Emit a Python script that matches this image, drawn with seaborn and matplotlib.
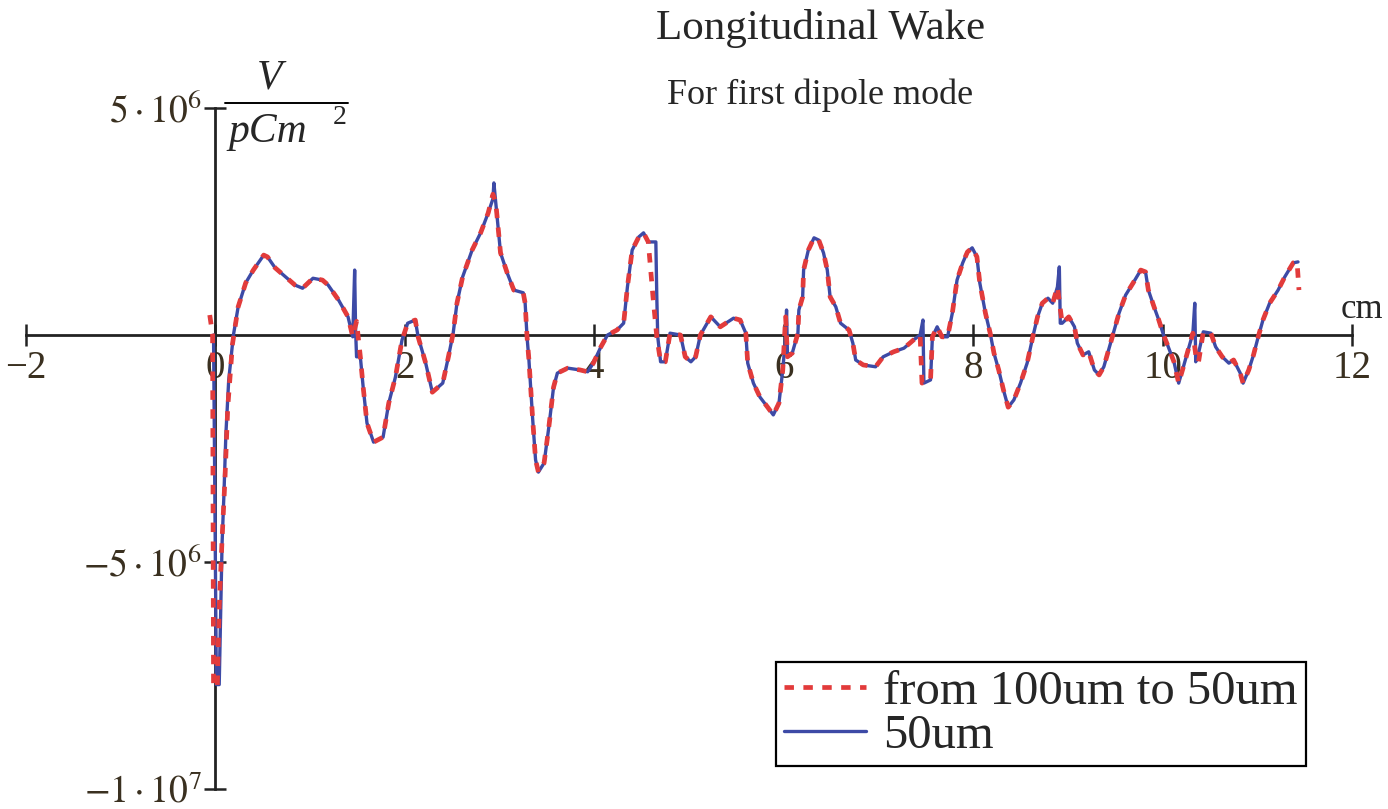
import numpy as np
import pandas as pd
import matplotlib
matplotlib.use("Agg")
import matplotlib.pyplot as plt
import seaborn as sns
from matplotlib.lines import Line2D

# ---------------- data (x in cm, wake in units of 1e6 V/(pC m^2)) ----------------
x_fine = [-0.02, 0.01, 0.04, 0.07, 0.09, 0.11, 0.14, 0.19, 0.24, 0.32, 0.40, 0.51, 0.55, 0.63,
          0.74, 0.84, 0.92, 1.03, 1.13, 1.19, 1.30, 1.40, 1.45, 1.47, 1.48, 1.49, 1.53, 1.56,
          1.60, 1.67, 1.77, 1.83, 1.90, 1.97, 2.03, 2.11, 2.14, 2.22, 2.29, 2.40, 2.46, 2.51,
          2.55, 2.61, 2.71, 2.80, 2.88, 2.93, 2.94, 2.96, 3.01, 3.08, 3.15, 3.25, 3.27, 3.29,
          3.31, 3.35, 3.38, 3.41, 3.47, 3.52, 3.57, 3.61, 3.72, 3.85, 3.93, 3.99, 4.07, 4.14,
          4.24, 4.31, 4.35, 4.40, 4.47, 4.52, 4.57, 4.65, 4.66, 4.67, 4.70, 4.75, 4.80, 4.91,
          4.96, 5.02, 5.07, 5.12, 5.23, 5.28, 5.33, 5.47, 5.54, 5.60, 5.62, 5.68, 5.75, 5.83,
          5.89, 5.95, 5.99, 6.02, 6.03, 6.04, 6.09, 6.15, 6.16, 6.20, 6.21, 6.26, 6.32, 6.37,
          6.42, 6.46, 6.49, 6.55, 6.60, 6.69, 6.73, 6.76, 6.84, 6.97, 7.05, 7.16, 7.27, 7.37,
          7.44, 7.47, 7.48, 7.55, 7.57, 7.62, 7.67, 7.73, 7.78, 7.83, 7.89, 7.94, 7.99, 8.04,
          8.07, 8.13, 8.18, 8.22, 8.27, 8.32, 8.37, 8.43, 8.50, 8.57, 8.63, 8.68, 8.73, 8.79,
          8.84, 8.89, 8.91, 8.92, 8.94, 9.01, 9.07, 9.10, 9.16, 9.22, 9.28, 9.33, 9.38, 9.43,
          9.48, 9.54, 9.61, 9.69, 9.77, 9.82, 9.85, 9.91, 9.96, 10.01, 10.06, 10.12, 10.17,
          10.22, 10.27, 10.32, 10.34, 10.35, 10.38, 10.43, 10.51, 10.56, 10.63, 10.70, 10.75,
          10.82, 10.85, 10.91, 10.96, 11.01, 11.06, 11.13, 11.22, 11.29, 11.38, 11.43]

w_fine = [0.0, -7.7, -7.7, -4.6, -3.5, -2.2, -1.0, 0.0, 0.62, 1.15, 1.43, 1.76, 1.72, 1.48,
          1.28, 1.10, 1.03, 1.25, 1.21, 1.10, 0.77, 0.40, -0.04, 1.43, 0.10, -0.48, -0.48, -1.15,
          -1.94, -2.36, -2.25, -1.50, -0.93, -0.11, 0.26, 0.33, -0.04, -0.62, -1.26, -1.06, -0.48, 0.04,
          0.70, 1.28, 1.87, 2.25, 2.69, 3.00, 3.35, 2.91, 1.81, 1.37, 0.99, 0.93, 0.70, -0.04,
          -0.55, -1.87, -2.75, -3.02, -2.82, -2.03, -1.15, -0.84, -0.73, -0.77, -0.81, -0.62, -0.26, 0.0,
          0.11, 0.26, 1.06, 1.87, 2.16, 2.25, 2.05, 2.05, 0.84, -0.04, -0.59, -0.59, 0.04, 0.0,
          -0.48, -0.59, -0.48, 0.0, 0.40, 0.29, 0.18, 0.37, 0.33, 0.04, -0.62, -1.06, -1.37, -1.59,
          -1.76, -1.50, -0.77, -0.04, 0.55, -0.48, -0.40, 0.04, 0.55, 0.84, 1.43, 1.87, 2.14, 2.09,
          1.81, 1.43, 0.84, 0.62, 0.26, 0.11, -0.18, -0.55, -0.66, -0.70, -0.48, -0.37, -0.29, -0.11,
          0.0, 0.33, -1.06, -0.99, -0.04, 0.18, -0.04, -0.04, 0.48, 1.21, 1.59, 1.83, 1.92, 1.72,
          1.15, 0.48, 0.04, -0.40, -0.77, -1.21, -1.59, -1.43, -1.06, -0.62, -0.04, 0.40, 0.70, 0.81,
          0.70, 1.06, 1.50, 0.26, 0.26, 0.40, 0.18, -0.18, -0.44, -0.37, -0.77, -0.88, -0.70, -0.33,
          0.04, 0.48, 0.88, 1.15, 1.43, 1.39, 0.99, 0.62, 0.33, 0.0, -0.26, -0.59, -1.06,
          -0.70, -0.33, 0.04, 0.70, -0.59, -0.40, 0.07, 0.04, -0.26, -0.48, -0.62, -0.55,
          -0.84, -1.06, -0.77, -0.44, -0.04, 0.33, 0.70, 0.99, 1.28, 1.59, 1.61]

x_coarse = [-0.06, -0.03, -0.02, 0.02, 0.04, 0.07, 0.10, 0.13, 0.18, 0.24, 0.32, 0.40, 0.51, 0.55,
            0.63, 0.74, 0.84, 0.92, 1.03, 1.13, 1.19, 1.30, 1.40, 1.45, 1.49, 1.53, 1.56, 1.60,
            1.67, 1.77, 1.83, 1.90, 1.97, 2.03, 2.11, 2.14, 2.22, 2.29, 2.40, 2.46, 2.51, 2.55,
            2.61, 2.71, 2.80, 2.88, 2.93, 2.96, 3.01, 3.08, 3.15, 3.25, 3.27, 3.29, 3.31, 3.35,
            3.38, 3.41, 3.47, 3.52, 3.57, 3.61, 3.72, 3.85, 3.93, 3.99, 4.07, 4.14, 4.24, 4.31,
            4.35, 4.40, 4.47, 4.52, 4.57, 4.62, 4.66, 4.70, 4.75, 4.80, 4.91, 4.96, 5.02, 5.07,
            5.12, 5.23, 5.28, 5.33, 5.47, 5.54, 5.60, 5.62, 5.68, 5.75, 5.83, 5.89, 5.95, 5.99,
            6.02, 6.04, 6.09, 6.15, 6.16, 6.20, 6.21, 6.26, 6.32, 6.37, 6.42, 6.46, 6.49, 6.55,
            6.60, 6.69, 6.73, 6.76, 6.84, 6.97, 7.05, 7.16, 7.27, 7.37, 7.44, 7.46, 7.55, 7.57,
            7.62, 7.67, 7.73, 7.78, 7.83, 7.89, 7.94, 7.99, 8.04, 8.07, 8.13, 8.18, 8.22, 8.27,
            8.32, 8.37, 8.43, 8.50, 8.57, 8.63, 8.68, 8.73, 8.79, 8.84, 8.89, 8.94, 9.01, 9.07,
            9.10, 9.16, 9.22, 9.28, 9.33, 9.38, 9.43, 9.48, 9.54, 9.61, 9.69, 9.77, 9.82, 9.85,
            9.91, 9.96, 10.01, 10.06, 10.12, 10.17, 10.22, 10.27, 10.32, 10.36, 10.38, 10.43,
            10.51, 10.56, 10.63, 10.70, 10.75, 10.82, 10.85, 10.91, 10.96, 11.01, 11.06, 11.13,
            11.22, 11.29, 11.38, 11.42, 11.44]

w_coarse = [0.44, 0.0, -7.75, -7.75, -6.0, -4.5, -3.2, -1.6, -0.2, 0.62, 1.15, 1.43, 1.76, 1.72,
            1.48, 1.28, 1.10, 1.03, 1.25, 1.21, 1.10, 0.77, 0.40, -0.04, 0.30, -0.48, -1.15, -1.94,
            -2.36, -2.25, -1.50, -0.93, -0.11, 0.26, 0.33, -0.04, -0.62, -1.26, -1.06, -0.48, 0.04, 0.70,
            1.28, 1.87, 2.25, 2.69, 3.10, 2.91, 1.81, 1.37, 0.99, 0.93, 0.70, -0.04, -0.55, -1.87,
            -2.75, -3.02, -2.82, -2.03, -1.15, -0.84, -0.73, -0.77, -0.81, -0.62, -0.26, 0.0, 0.11, 0.26,
            1.06, 1.87, 2.16, 2.25, 2.05, 0.84, -0.04, -0.59, -0.59, 0.04, 0.0, -0.48, -0.59, -0.48,
            0.0, 0.40, 0.29, 0.18, 0.37, 0.33, 0.04, -0.62, -1.06, -1.37, -1.59, -1.76, -1.50, -0.77,
            0.40, -0.48, -0.40, 0.04, 0.55, 0.84, 1.43, 1.87, 2.14, 2.09, 1.81, 1.43, 0.84, 0.62,
            0.26, 0.11, -0.18, -0.55, -0.66, -0.70, -0.48, -0.37, -0.29, -0.11, 0.0, -1.06, -0.99, -0.04,
            0.18, -0.04, -0.04, 0.48, 1.21, 1.59, 1.83, 1.92, 1.72, 1.15, 0.48, 0.04, -0.40, -0.77,
            -1.21, -1.59, -1.43, -1.06, -0.62, -0.04, 0.40, 0.70, 0.81, 0.70, 1.06, 0.26, 0.40, 0.18,
            -0.18, -0.44, -0.37, -0.77, -0.88, -0.70, -0.33, 0.04, 0.48, 0.88, 1.15, 1.43, 1.39, 0.99,
            0.62, 0.33, 0.0, -0.26, -0.59, -1.06, -0.70, -0.33, 0.04, -0.59, -0.59, 0.07,
            0.04, -0.26, -0.48, -0.62, -0.55, -0.84, -1.06, -0.77, -0.44, -0.04, 0.33, 0.70,
            0.99, 1.28, 1.59, 1.61, 0.99]

series_labels = ["from 100um to 50um", "50um"]
x_ticks = [-2, 0, 2, 4, 6, 8, 10, 12]
x_tick_labels = ["\u22122", "0", "2", "4", "6", "8", "10", "12"]
y_ticks = [5e6, -5e6, -1e7]
y_tick_labels = [r"$5\cdot10^{6}$", r"$-5\cdot10^{6}$", r"$-1\cdot10^{7}$"]
UNIT = 1e6

# ---------------- styling ----------------
sns.set_style("white")
plt.rcParams["font.family"] = ["Liberation Serif", "DejaVu Serif"]
plt.rcParams["mathtext.fontset"] = "stix"

W, H = 1388, 809
fig = plt.figure(figsize=(W / 100, H / 100), dpi=100)
ax = fig.add_axes([26 / W, 20 / H, (1352 - 26) / W, (789 - 108) / H])

df_red = pd.DataFrame({"x": x_coarse, "w": np.array(w_coarse) * UNIT})
df_blue = pd.DataFrame({"x": x_fine, "w": np.array(w_fine) * UNIT})

RED = "#e23b3b"
BLUE = "#3d4aa6"
RED_LS = (0, (2.0, 2.0))

sns.lineplot(data=df_blue, x="x", y="w", ax=ax, sort=False, estimator=None,
             color=BLUE, linewidth=2.4, zorder=3)
sns.lineplot(data=df_red, x="x", y="w", ax=ax, sort=False, estimator=None,
             color=RED, linewidth=3.4, linestyle=RED_LS, zorder=4)

ax.set_xlim(-2, 12)
ax.set_ylim(-1e7, 5e6)

for s in ["top", "right"]:
    ax.spines[s].set_visible(False)
for s in ["left", "bottom"]:
    ax.spines[s].set_position(("data", 0))
    ax.spines[s].set_color("#222222")
    ax.spines[s].set_linewidth(2.0)
    ax.spines[s].set_zorder(2)

ax.set_xticks(x_ticks)
ax.set_xticklabels(x_tick_labels, fontsize=28)
ax.set_yticks(y_ticks)
ax.set_yticklabels(y_tick_labels, fontsize=27)
ax.tick_params(axis="both", direction="inout", length=16, width=1.8, color="#222222",
               labelcolor="#3a3020")
ax.tick_params(axis="x", pad=3, bottom=True)
ax.tick_params(axis="y", pad=2, left=True)
ax.set_xlabel("")
ax.set_ylabel("")
ax.grid(False)

# titles
fig.text(821 / W, 1 - 28 / H, "Longitudinal Wake", ha="center", va="center", fontsize=31)
fig.text(820 / W, 1 - 95 / H, "For first dipole mode", ha="center", va="center", fontsize=26)

# y unit label (fraction)
fig.text(270 / W, 1 - 78 / H, "V", ha="center", va="center", fontsize=30, style="italic")
fig.add_artist(Line2D([225 / W, 348 / W], [1 - 103 / H, 1 - 103 / H], color="black", lw=1.4))
fig.text(268 / W, 1 - 132 / H, "pCm", ha="center", va="center", fontsize=30, style="italic")
fig.text(340 / W, 1 - 118 / H, "2", ha="center", va="center", fontsize=20)

# x unit label
fig.text(1362 / W, 1 - 310 / H, "cm", ha="center", va="center", fontsize=25)

# legend
handles = [Line2D([], [], color=RED, lw=3.4, linestyle=RED_LS),
           Line2D([], [], color=BLUE, lw=2.4)]
leg = fig.legend(handles, series_labels, loc="lower left",
                 bbox_to_anchor=(776 / W, 1 - 766 / H), fontsize=35, frameon=True,
                 fancybox=False, framealpha=1, edgecolor="black", handlelength=1.7,
                 handletextpad=0.35, labelspacing=0.0, borderpad=0.16, borderaxespad=0)
leg.get_frame().set_linewidth(1.6)

fig.savefig("out.png", dpi=100)
